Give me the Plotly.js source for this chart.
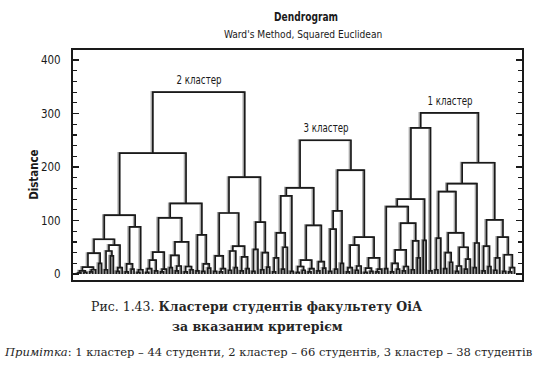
<!DOCTYPE html>
<html>
<head>
<meta charset="utf-8">
<script src="https://cdn.plot.ly/plotly-3.0.1.min.js"></script>
<style>html,body{margin:0;padding:0;background:#fff}</style>
</head>
<body>
<div id="chart" style="width:538px;height:373px"></div>
<script>
// Ward's-method sub-trees, written as "(left,right)height"; each "o" is one student.
function join(a, b, h) { return "(" + a + "," + b + ")" + h; }

// Cluster 2 branches
const c2A1aL = "((((o,o)2,(o,o)3)6,((o,o)4,o)8)13,(o,o)20)39";
const c2A1aR = "(((o,o)8,(o,o)34)43,((o,o)5,o)12)54";
const c2A1b  = "(((o,o)4,(o,o)9)19,((o,o)3,o)8)88";
const c2A2aL = "((((o,o)3,o)10,(o,o)6)26,((o,o)4,o)9)41";
const c2A2aR = "(((o,o)12,((o,o)6,o)15)35,((o,o)4,(o,o)8)14)60";
const c2A2b  = "((o,o)6,((o,o)5,(o,o)11)19)73";
const c2B1   = "(((o,o)5,((o,o)4,o)10)34,(((o,o)7,(o,o)12)43,((o,o)6,(o,o)10)32)52)114";
const c2B2   = "(((o,o)5,o)46,((o,o)8,(o,o)13)40)97";
const cluster2Tree = join(
  join(join(join(c2A1aL, c2A1aR, 65), c2A1b, 110), join(join(c2A2aL, c2A2aR, 105), c2A2b, 132), 226),
  join(c2B1, c2B2, 181), 340);

// Cluster 3 branches
const c3LL = "((((o,o)4,o)30,((o,o)9,o)50)77,(o,o)5)146";
const c3LR = "((((o,o)3,(o,o)7)14,((o,o)4,o)10)26,((o,o)6,(o,o)11)23)91";
const c3RL = "(((o,o)5,(o,o)9)84,(o,o)20)118";
const c3RR = "((((o,o)4,o)12,((o,o)7,o)15)54,(((o,o)3,(o,o)5)11,((o,o)4,o)9)30)69";
const cluster3Tree = join(join(c3LL, c3LR, 161), join(c3RL, c3RR, 194), 250);

// Cluster 1 branches
const c1LLa  = "((o,o)10,((((o,o)4,(o,o)9)20,((o,o)6,o)14)45,((o,o)8,(o,o)30)62)95)126";
const c1LLb  = "(o,o)63";
const c1LR   = "(o,o)6";
const c1RLLa = "((o,o)8,o)67";
const c1RLLb = "(((o,o)10,(o,o)22)40,(((o,o)5,o)15,((o,o)9,o)28)50)77";
const c1RLR  = "((o,o)12,o)58";
const c1RRa  = "((o,o)6,(o,o)14)52";
const c1RRb  = "(((o,o)7,o)30,((o,o)5,((o,o)4,o)12)36)69";
const cluster1Tree = join(
  join(join(c1LLa, c1LLb, 140), c1LR, 273),
  join(join(join(c1RLLa, c1RLLb, 154), c1RLR, 169), join(c1RRa, c1RRb, 101), 208), 301);

// Left-to-right order of the three clusters on the axis
const clusterTrees = [cluster2Tree, cluster3Tree, cluster1Tree];
const clusterNames = ["2 кластер", "3 кластер", "1 кластер"];
const clusterSizes = [66, 38, 44];
const yTickValues = [0, 100, 200, 300, 400];

const axisFont = "DejaVu Sans Condensed, DejaVu Sans, sans-serif";
const captionFont = "DejaVu Serif, serif";
const ink = "#1a1a1a";

function parseTree(src) {
  const s = src.replace(/\s+/g, "");
  let i = 0;
  function node() {
    if (i >= s.length) throw new Error("unbalanced tree");
    if (s[i] === "o") { i++; return { leaf: true }; }
    i++;                       // "("
    const left = node();
    i++;                       // ","
    const right = node();
    i++;                       // ")"
    const j = i;
    while (i < s.length && /[0-9.]/.test(s[i])) i++;
    return { left, right, h: parseFloat(s.slice(j, i)) };
  }
  return node();
}

// Leaves sit one unit apart; each merge sits midway between its two branches
let leafIndex = 0;
function place(n) {
  if (n.leaf) { n.x = leafIndex++; n.h = 0; return; }
  place(n.left); place(n.right);
  n.x = (n.left.x + n.right.x) / 2;
}

const xs = [], ys = [];
function collect(n) {
  if (n.leaf) return;
  xs.push(n.left.x, n.left.x, n.right.x, n.right.x, null);
  ys.push(n.left.h, n.h, n.h, n.right.h, null);
  collect(n.left); collect(n.right);
}

const roots = clusterTrees.map(parseTree);
roots.forEach(r => { place(r); collect(r); });

const pxPerLeaf = 2.95, firstLeafPx = 5, plotWidthPx = 449;
// the printed links carry a soft grey double just to their left
const shadowShift = 1.3 / pxPerLeaf;

const traces = [
  {
    type: "scatter", mode: "lines",
    x: xs.map(v => v === null ? null : v - shadowShift), y: ys,
    line: { color: "#a9a9a9", width: 2 }, hoverinfo: "skip", showlegend: false
  },
  {
    type: "scatter", mode: "lines", x: xs, y: ys,
    line: { color: ink, width: 1.7 }, hoverinfo: "skip", showlegend: false
  }
];

const annotations = roots.map((r, k) => ({
  xref: "x", yref: "y", x: r.x, y: r.h, xanchor: "center", yanchor: "middle", yshift: 12,
  text: clusterNames[k], showarrow: false,
  font: { family: axisFont, size: 12, color: ink }
}));

const noteText = "<i>Примітка</i>: 1 кластер – " + clusterSizes[2] + " студенти, 2 кластер – " + clusterSizes[0] +
                 " студентів, 3 кластер – " + clusterSizes[1] + " студентів";

annotations.push(
  { xref: "paper", yref: "paper", x: 0.519, y: 1, xanchor: "center", yanchor: "middle", yshift: 33,
    text: "<b>Dendrogram</b>", showarrow: false, font: { family: axisFont, size: 12, color: ink } },
  { xref: "paper", yref: "paper", x: 0.512, y: 1, xanchor: "center", yanchor: "middle", yshift: 16,
    text: "Ward's Method, Squared Euclidean", showarrow: false, font: { family: axisFont, size: 11, color: ink } },
  { xref: "paper", yref: "paper", x: -0.087, y: 0.46, xanchor: "center", yanchor: "middle", textangle: -90,
    text: "<b>Distance</b>", showarrow: false, font: { family: axisFont, size: 12, color: ink } },
  { xref: "paper", yref: "paper", x: 0.41, y: -0.116, xanchor: "center", yanchor: "middle",
    text: "Рис. 1.43. <b>Кластери студентів факультету ОіА</b>", showarrow: false,
    font: { family: captionFont, size: 12.5, color: "#262626" } },
  { xref: "paper", yref: "paper", x: 0.41, y: -0.203, xanchor: "center", yanchor: "middle",
    text: "<b>за вказаним критерієм</b>", showarrow: false,
    font: { family: captionFont, size: 12.5, color: "#262626" } },
  { xref: "paper", yref: "paper", x: 0.434, y: -0.312, xanchor: "center", yanchor: "middle",
    text: noteText, showarrow: false, font: { family: captionFont, size: 11.5, color: "#262626" } }
);

const layout = {
  width: 538, height: 373,
  margin: { l: 73, r: 16, t: 50, b: 93, pad: 0 },
  paper_bgcolor: "#fff", plot_bgcolor: "#fff",
  xaxis: {
    range: [-firstLeafPx / pxPerLeaf, (plotWidthPx - firstLeafPx) / pxPerLeaf],
    showticklabels: false, ticks: "", showgrid: false, zeroline: false,
    showline: true, linewidth: 2, linecolor: ink, mirror: true
  },
  yaxis: {
    range: [-11.2, 418.7],
    tickmode: "array", tickvals: yTickValues,
    ticks: "inside", ticklen: 6, tickwidth: 1.5, tickcolor: ink,
    minor: { dtick: 20, tick0: 0, ticks: "inside", ticklen: 4, tickwidth: 1.2, tickcolor: ink, showgrid: false },
    ticklabelstandoff: 8,
    tickfont: { family: axisFont, size: 11.5, color: ink },
    showgrid: false, zeroline: false,
    showline: true, linewidth: 2, linecolor: ink, mirror: "ticks"
  },
  annotations: annotations
};

// Narrow-set headings: squeeze the sans labels to a condensed width
const narrowFactor = { "Dendrogram": 0.84, "Ward's Method, Squared Euclidean": 0.92, "Distance": 0.95,
                       "2 кластер": 0.8, "3 кластер": 0.8, "1 кластер": 0.8 };

Plotly.newPlot("chart", traces, layout, { staticPlot: true, displayModeBar: false }).then(gd => {
  gd.querySelectorAll("text.annotation-text").forEach(t => {
    const f = narrowFactor[t.textContent];
    if (!f) return;
    t.setAttribute("textLength", (t.getComputedTextLength() * f).toFixed(1));
    t.setAttribute("lengthAdjust", "spacingAndGlyphs");
  });
});
</script>
</body>
</html>
